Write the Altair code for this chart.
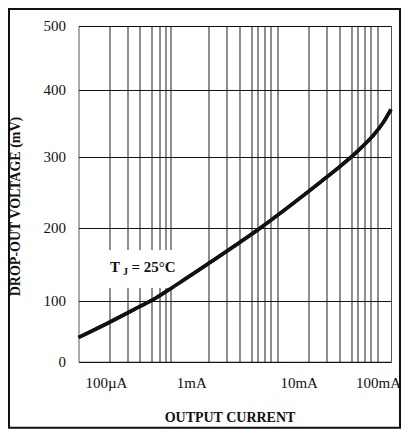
import altair as alt
import pandas as pd

# ---- data ----
current_ma = [0.05548, 0.1139, 0.2350, 0.3517, 0.5697, 0.9235, 1.264, 1.815, 2.736,
              4.434, 7.186, 14.22, 19.66, 28.44, 42.14, 55.90, 68.31, 86.96, 104.7]
dropout_mv = [36.0, 57.8, 81.0, 94.1, 113.2, 132.9, 145.8, 160.7, 178.0,
              198.8, 220.9, 253.3, 269.0, 287.2, 307.6, 324.1, 337.1, 356.4, 375.9]

x_grid_ma = [0.1159, 0.1820, 0.2407, 0.3270, 0.3873, 0.4476, 0.5173,
             1.273, 1.985, 2.671, 3.628, 4.195, 4.918, 5.741, 6.731,
             14.22, 22.18, 29.85, 40.55, 46.88, 54.95, 63.54, 75.19]
x_label_ma = [0.1, 1, 10, 100]
x_label_text = ["100µA", "1mA", "10mA", "100mA"]
x_label_shift = [3, -7, 5, -11]
y_grid_mv = [0, 90.9, 199.6, 305.3, 404.7, 500]

x_domain = [0.05548, 104.7]
y_domain = [0, 500]

note_x = [0.1187]
note_y = [134.0]
note_box = {"I": [0.0935], "I2": [0.643], "V": [109.8], "V2": [166.4]}

FONT = "Liberation Serif"

curve_df = pd.DataFrame({"I": current_ma, "V": dropout_mv})
note_df = pd.DataFrame({"I": note_x, "V": note_y})
box_df = pd.DataFrame(note_box)

label_expr = "''"
for v, t in reversed(list(zip(x_label_ma, x_label_text))):
    label_expr = f"datum.value == {v} ? '{t}' : ({label_expr})"
label_list = "[" + ",".join(str(v) for v in x_label_ma) + "]"

xscale = alt.Scale(type="log", domain=x_domain, nice=False)
yscale = alt.Scale(domain=y_domain, nice=False, zero=False)

x_axis = alt.Axis(
    values=sorted(x_grid_ma + x_label_ma),
    labelExpr=label_expr,
    grid=True,
    gridColor="#1e1e1e",
    gridWidth=1,
    gridOpacity={"condition": {"test": f"indexof({label_list}, datum.value) < 0", "value": 1}, "value": 0},
    ticks=False,
    domain=False,
    labelOverlap=False,
    labelFlush=False,
    labelOffset={
        "condition": [{"test": f"datum.value == {v}", "value": s}
                      for v, s in zip(x_label_ma, x_label_shift)],
        "value": 0,
    },
    labelFont=FONT,
    labelFontSize=15,
    labelColor="#111111",
    labelPadding=14,
    title="OUTPUT CURRENT",
    titleFont=FONT,
    titleFontSize=14,
    titleFontWeight="bold",
    titleColor="#111111",
    titleX=151,
    titleY=56,
    titleBaseline="middle",
)
y_axis = alt.Axis(
    values=y_grid_mv,
    labelExpr="format(round(datum.value/100)*100, 'd')",
    grid=True,
    gridColor="#111111",
    gridWidth=1,
    ticks=False,
    domain=False,
    labelOverlap=False,
    labelFlush=False,
    labelFont=FONT,
    labelFontSize=15,
    labelColor="#111111",
    labelPadding=13,
    title="DROP-OUT VOLTAGE (mV)",
    titleFont=FONT,
    titleFontSize=14,
    titleFontWeight="bold",
    titleColor="#111111",
    titleX=-63.5,
    titleY=180,
    titleBaseline="middle",
)

curve = alt.Chart(curve_df).mark_line(
    color="#111111", strokeWidth=3.5, interpolate="monotone"
).encode(
    x=alt.X("I:Q", scale=xscale, axis=x_axis),
    y=alt.Y("V:Q", scale=yscale, axis=y_axis),
)

box = alt.Chart(box_df).mark_rect(color="white").encode(
    x=alt.X("I:Q", scale=xscale),
    x2="I2:Q",
    y=alt.Y("V:Q", scale=yscale),
    y2="V2:Q",
)

def note(text, dx, dy, size):
    return alt.Chart(note_df).mark_text(
        text=text, align="left", baseline="alphabetic", dx=dx, dy=dy,
        font=FONT, fontSize=size, fontWeight="bold", color="#111111",
    ).encode(
        x=alt.X("I:Q", scale=xscale),
        y=alt.Y("V:Q", scale=yscale),
    )

frame = alt.Chart(pd.DataFrame({"k": [0]})).mark_rect(
    fillOpacity=0, stroke="#111111", strokeWidth=2
).encode(
    x=alt.value(-69.5), x2=alt.value(321.5), y=alt.value(-17), y2=alt.value(401.7)
)

chart = alt.layer(
    curve, box, curve, note("T", 0, 0, 15), note("J", 13, 3, 10), note("= 25°C", 21.5, 0, 15), frame
).properties(
    width=312.5,
    height=335.7,
    autosize=alt.AutoSizeParams(type="none"),
    padding={"left": 70.5, "top": 18, "right": 10, "bottom": 67},
    background="white",
).configure_view(stroke="#555555", strokeWidth=1)

chart.save("out.html", embed_options={"renderer": "svg", "actions": False})
